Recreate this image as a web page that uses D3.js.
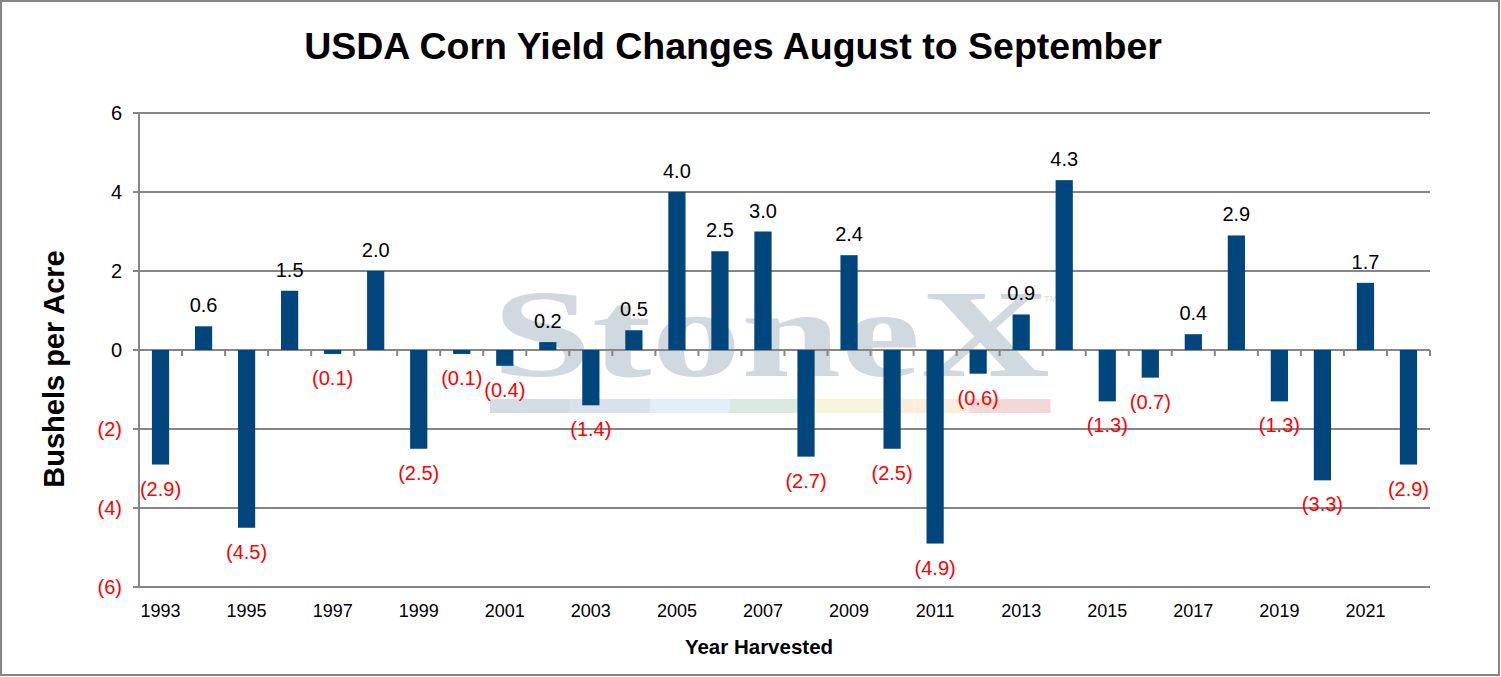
<!DOCTYPE html>
<meta charset="utf-8">
<style type="text/css">
body { margin: 0; background: #fff; }
svg text { font-family: "Liberation Sans", Arial, sans-serif; }
.grid line { stroke: #868686; stroke-width: 2; }
.bar { fill: #00457c; }
</style>
<body>
</body>
<script src="https://d3js.org/d3.v7.min.js"></script>
<script>
// data
var years = d3.range(1993, 2023);
var changes = [-2.9, 0.6, -4.5, 1.5, -0.1, 2.0, -2.5, -0.1, -0.4, 0.2,
               -1.4, 0.5, 4.0, 2.5, 3.0, -2.7, 2.4, -2.5, -4.9, -0.6,
               0.9, 4.3, -1.3, -0.7, 0.4, 2.9, -1.3, -3.3, 1.7, -2.9];
var yTicks = [6, 4, 2, 0, -2, -4, -6];
var stripColors = ["#d6dce4", "#d9e2ec", "#e2edf6", "#dce9e0", "#f8f5dd", "#fbefdc", "#f4d8d8"];

var W = 1501, H = 677;
var plot = {left: 139, right: 1430, top: 113, bottom: 587};

function paren(v, digits) {
    return v < 0 ? "(" + (-v).toFixed(digits) + ")" : v.toFixed(digits);
}

var svg = d3.select("body").append("svg")
    .attr("width", W)
    .attr("height", H);

// outer frame
svg.append("rect")
    .attr("x", 1).attr("y", 1)
    .attr("width", W - 3).attr("height", H - 3)
    .attr("fill", "#fff")
    .attr("stroke", "#868686")
    .attr("stroke-width", 2);

var x = d3.scaleBand()
    .domain(years)
    .range([plot.left, plot.right])
    .paddingInner(0.6)
    .paddingOuter(0.3);

var y = d3.scaleLinear()
    .domain([-6, 6])
    .range([plot.bottom, plot.top]);

// watermark
var wm = svg.append("g").attr("class", "watermark");
wm.append("text")
    .attr("x", 492).attr("y", 376)
    .style("font-family", "'Liberation Serif', 'Times New Roman', serif")
    .attr("font-size", 124)
    .attr("font-weight", "bold")
    .attr("textLength", 558)
    .attr("lengthAdjust", "spacingAndGlyphs")
    .attr("fill", "#d0d8e0")
    .text("StoneX");
wm.append("text")
    .attr("x", 1044).attr("y", 302)
    .attr("font-size", 9)
    .attr("fill", "#d8dee5")
    .text("TM");
var stripW = 560 / stripColors.length;
wm.selectAll(".strip")
    .data(stripColors)
    .enter().append("rect")
    .attr("class", "strip")
    .attr("x", function(d, i) { return 490 + i * stripW; })
    .attr("y", 399)
    .attr("width", stripW + 0.5)
    .attr("height", 14)
    .attr("fill", function(d) { return d; });

// gridlines + y axis
var grid = svg.append("g").attr("class", "grid");
grid.selectAll("line.h")
    .data(yTicks.filter(function(d) { return d !== 0; }))
    .enter().append("line")
    .attr("class", "h")
    .attr("x1", plot.left - 6).attr("x2", plot.right)
    .attr("y1", function(d) { return y(d); })
    .attr("y2", function(d) { return y(d); });
grid.append("line")
    .attr("x1", plot.left).attr("x2", plot.left)
    .attr("y1", plot.top).attr("y2", plot.bottom);

svg.selectAll(".ylab")
    .data(yTicks)
    .enter().append("text")
    .attr("class", "ylab")
    .attr("x", 122)
    .attr("y", function(d) { return y(d); })
    .attr("dy", "0.35em")
    .attr("text-anchor", "end")
    .attr("font-size", 20)
    .attr("fill", function(d) { return d < 0 ? "#ff0000" : "#000"; })
    .text(function(d) { return paren(d, 0); });

// bars
svg.selectAll(".bar")
    .data(changes)
    .enter().append("rect")
    .attr("class", "bar")
    .attr("x", function(d, i) { return x(years[i]); })
    .attr("width", x.bandwidth())
    .attr("y", function(d) { return y(Math.max(0, d)); })
    .attr("height", function(d) { return Math.abs(y(d) - y(0)); });

// zero axis with ticks between categories
grid.append("line")
    .attr("x1", plot.left - 6).attr("x2", plot.right)
    .attr("y1", y(0)).attr("y2", y(0));
grid.selectAll("line.t")
    .data(d3.range(1, years.length + 1))
    .enter().append("line")
    .attr("class", "t")
    .attr("x1", function(d) { return plot.left + d * x.step(); })
    .attr("x2", function(d) { return plot.left + d * x.step(); })
    .attr("y1", y(0)).attr("y2", y(0) + 6);

// value labels
svg.selectAll(".vlab")
    .data(changes)
    .enter().append("text")
    .attr("class", "vlab")
    .attr("x", function(d, i) { return x(years[i]) + x.bandwidth() / 2; })
    .attr("y", function(d) { return d >= 0 ? y(d) - 14 : y(d) + 31; })
    .attr("text-anchor", "middle")
    .attr("font-size", 20)
    .attr("fill", function(d) { return d < 0 ? "#ff0000" : "#000"; })
    .text(function(d) { return paren(d, 1); });

// x labels, every other year
svg.selectAll(".xlab")
    .data(years.filter(function(d, i) { return i % 2 === 0; }))
    .enter().append("text")
    .attr("class", "xlab")
    .attr("x", function(d) { return x(d) + x.bandwidth() / 2; })
    .attr("y", 617)
    .attr("text-anchor", "middle")
    .attr("font-size", 18)
    .text(function(d) { return d; });

// titles
svg.append("text")
    .attr("x", 733).attr("y", 59)
    .attr("text-anchor", "middle")
    .attr("font-size", 37.5)
    .attr("font-weight", "bold")
    .text("USDA Corn Yield Changes August to September");

svg.append("text")
    .attr("transform", "translate(64,369) rotate(-90)")
    .attr("text-anchor", "middle")
    .attr("font-size", 29)
    .attr("font-weight", "bold")
    .text("Bushels per Acre");

svg.append("text")
    .attr("x", 759).attr("y", 654)
    .attr("text-anchor", "middle")
    .attr("font-size", 20.5)
    .attr("font-weight", "bold")
    .text("Year Harvested");
</script>
